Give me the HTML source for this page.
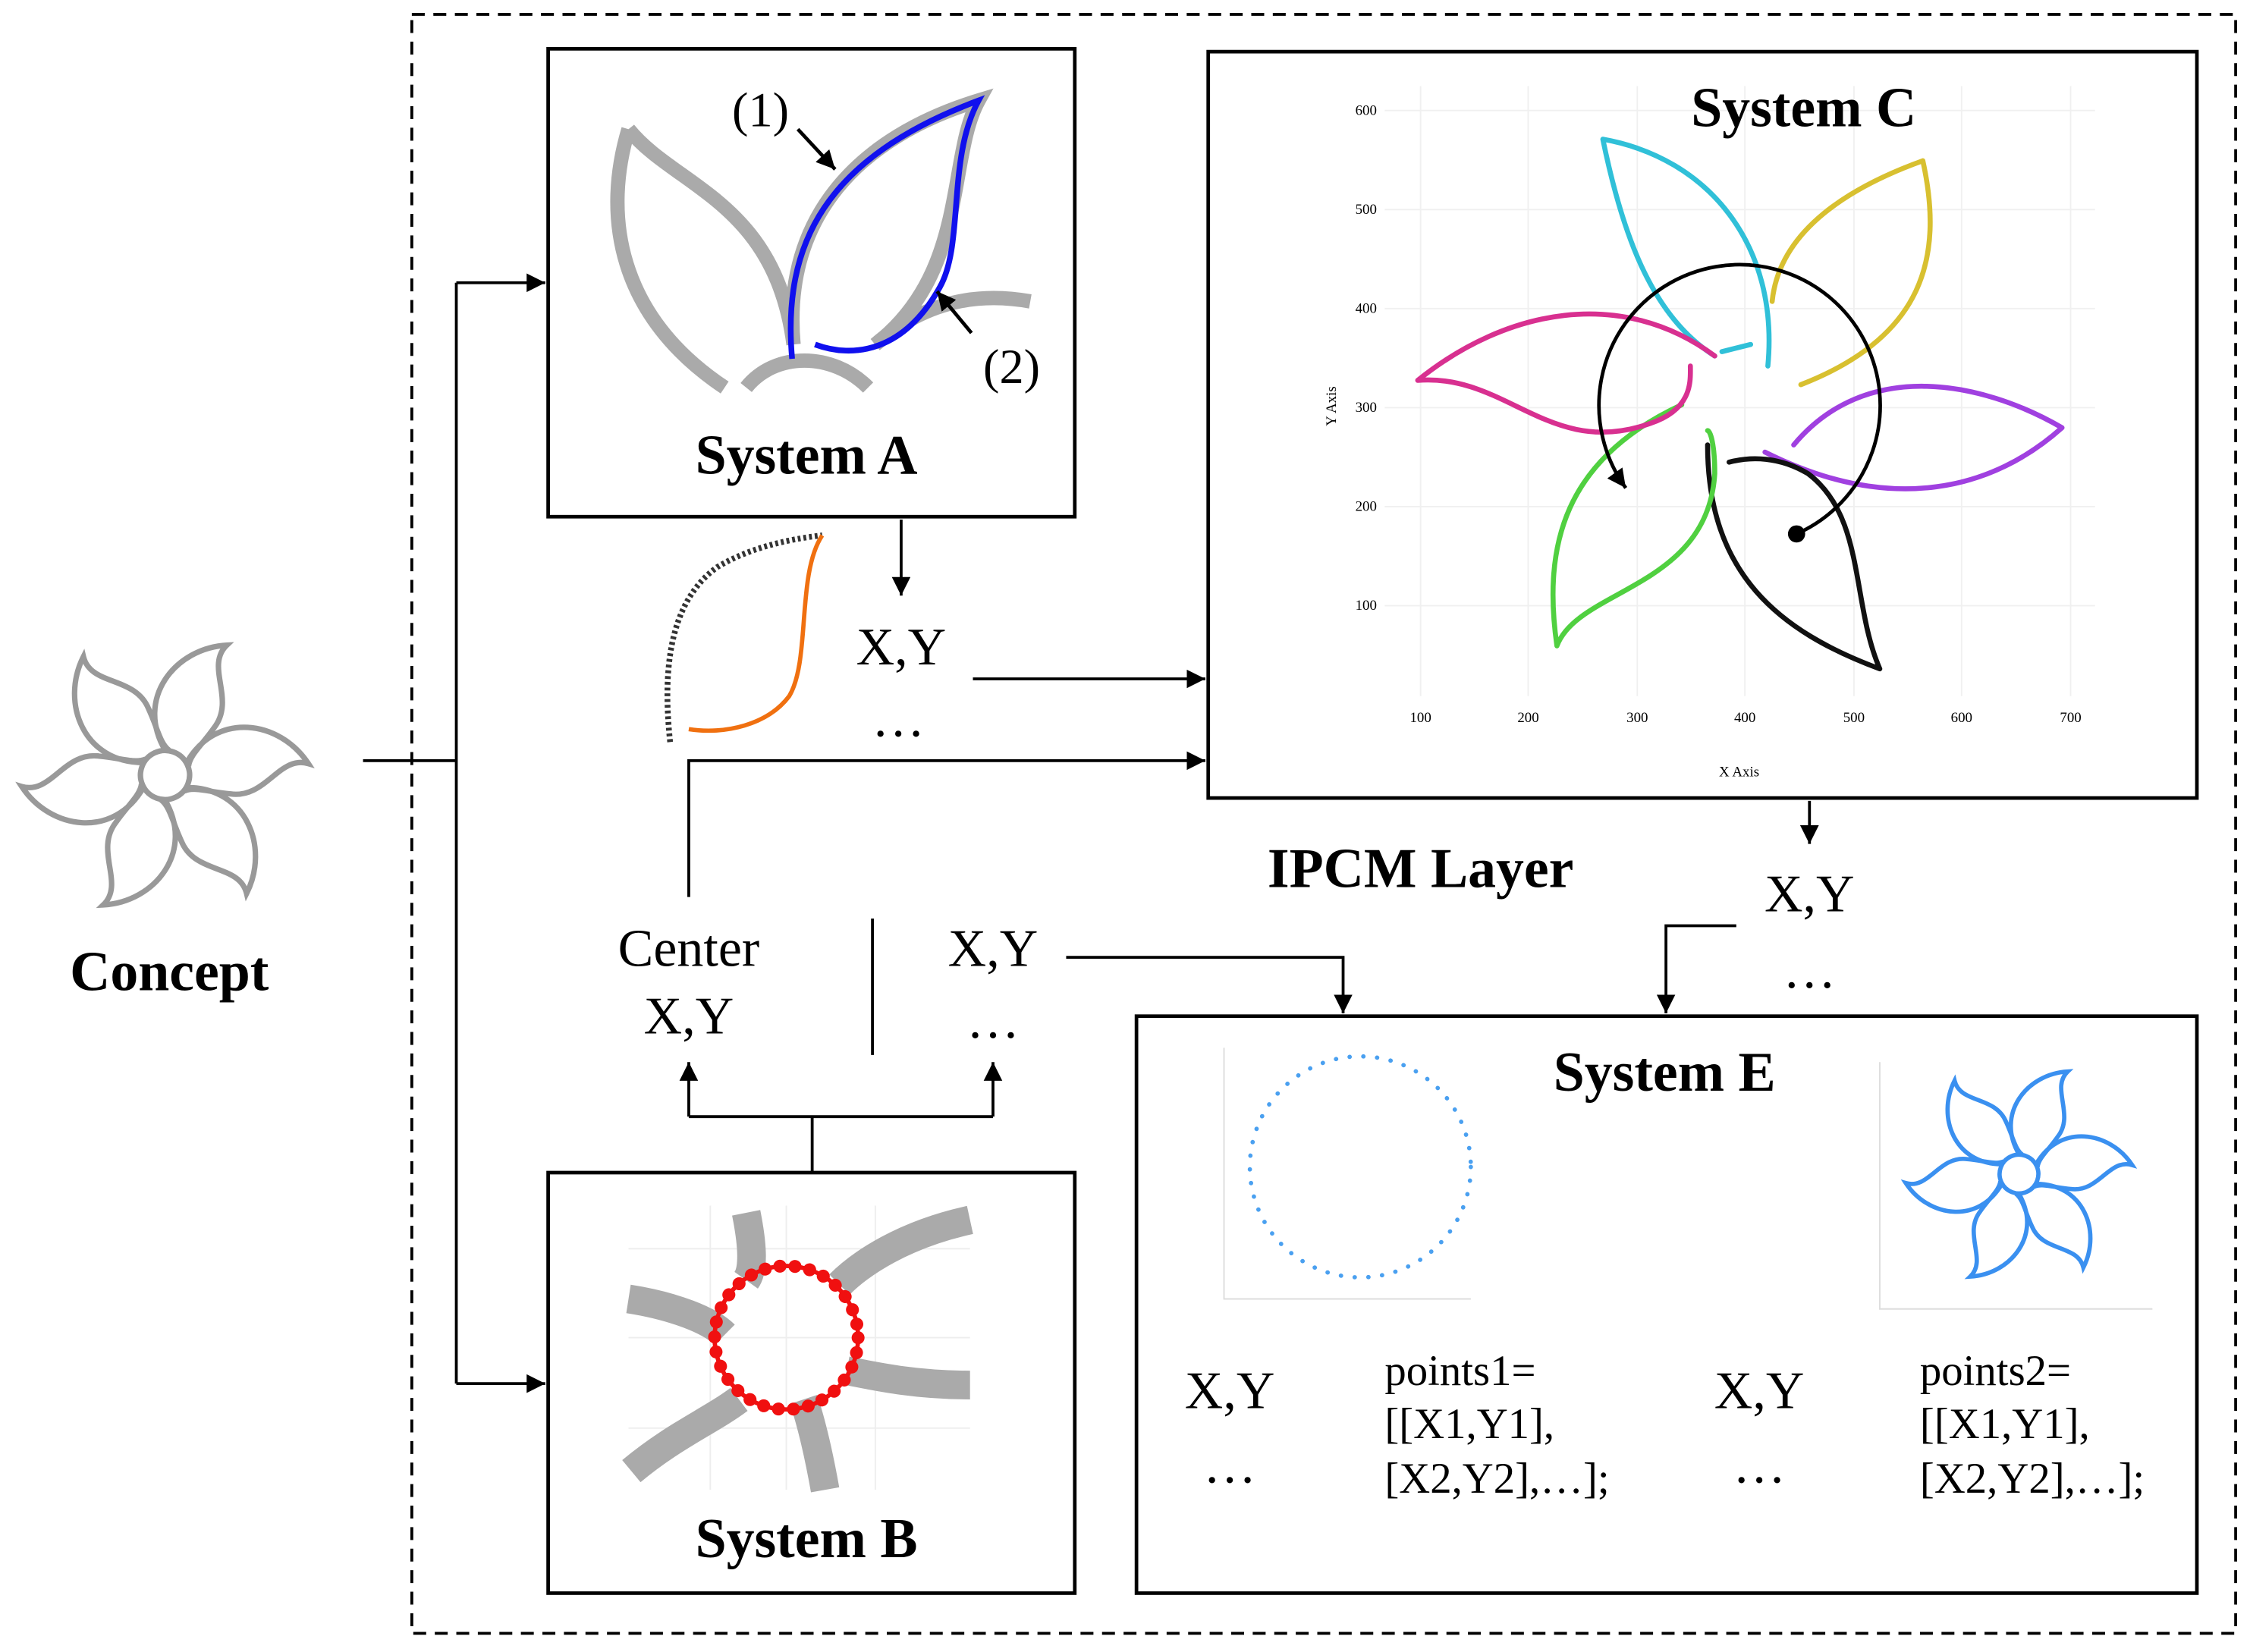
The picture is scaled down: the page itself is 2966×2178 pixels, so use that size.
<!DOCTYPE html>
<html><head><meta charset="utf-8"><style>
html,body{margin:0;padding:0;background:#fff}
svg{display:block}
text{font-family:"Liberation Serif",serif;fill:#000}
.t{font-weight:bold;font-size:39px;text-anchor:middle}
.r{font-size:37px;text-anchor:middle}
.p{font-size:30px}
.ax{font-family:"Liberation Sans",sans-serif;font-size:10px;fill:#555;text-anchor:middle}
</style></head><body>
<svg width="2966" height="2178" viewBox="0 0 1568 1151" preserveAspectRatio="none" xmlns="http://www.w3.org/2000/svg">
<defs>
<marker id="a" viewBox="0 0 10 10" refX="10" refY="5" markerWidth="13" markerHeight="13" markerUnits="userSpaceOnUse" orient="auto"><path d="M0,0L10,5L0,10z" fill="#000"/></marker>
<g id="pet"><path d="M-6,-17 C-40,-45 -25,-90 10,-105 C0,-85 30,-70 22,-45 C18,-30 12,-20 14,-12" fill="none"/></g>
</defs>
<rect x="287" y="10" width="1271" height="1128" fill="none" stroke="#000" stroke-width="2" stroke-dasharray="9,6"/>

<!-- Concept flower -->
<g transform="translate(115,540) rotate(20) scale(0.95)" stroke="#999" stroke-width="4" fill="none">
<circle r="18"/>
<use href="#pet"/><use href="#pet" transform="rotate(60)"/><use href="#pet" transform="rotate(120)"/><use href="#pet" transform="rotate(180)"/><use href="#pet" transform="rotate(240)"/><use href="#pet" transform="rotate(300)"/>
</g>
<text class="t" x="118" y="690">Concept</text>

<!-- connectors -->
<g stroke="#000" stroke-width="2" fill="none">
<path d="M253,530H318"/>
<path d="M318,197V964"/>
<path d="M318,197H380" marker-end="url(#a)"/>
<path d="M318,964H380" marker-end="url(#a)"/>
<path d="M628,362V415" marker-end="url(#a)"/>
<path d="M678,473H840" marker-end="url(#a)"/>
<path d="M480,625V530H840" marker-end="url(#a)"/>
<path d="M608,640V735"/>
<path d="M566,817V778M480,778H692"/>
<path d="M480,778V740" marker-end="url(#a)"/>
<path d="M692,778V740" marker-end="url(#a)"/>
<path d="M743,667H936V706" marker-end="url(#a)"/>
<path d="M1261,558V588" marker-end="url(#a)"/>
<path d="M1210,645H1161V706" marker-end="url(#a)"/>
<path d="M907,990H946" marker-end="url(#a)"/>
<path d="M1277,990H1319" marker-end="url(#a)"/>
</g>

<!-- System A -->
<rect x="382" y="34" width="367" height="326" fill="#fff" stroke="#000" stroke-width="2.5"/>
<g stroke="#aaa" stroke-width="10" fill="none">
<path d="M438,90 C420,150 430,220 505,270"/>
<path d="M438,90 C470,130 540,140 553,240"/>
<path d="M553,240 C545,150 600,95 682,70 C660,110 675,190 610,240 C650,205 690,205 718,210"/>
<path d="M520,270 C540,245 580,245 605,270"/>
</g>
<path d="M552,250 C545,170 575,110 682,70 C660,110 672,170 655,200 C630,245 595,250 568,240" stroke="#1010ee" stroke-width="4" fill="none"/>
<text x="530" y="88" class="r" style="font-size:34px">(1)</text>
<text x="705" y="267" class="r" style="font-size:34px">(2)</text>
<g stroke="#000" stroke-width="2.5"><path d="M556,90L582,118" marker-end="url(#a)"/><path d="M677,232L653,203" marker-end="url(#a)"/></g>
<text class="t" x="562" y="330">System A</text>

<!-- small leaf -->
<path d="M467,517 C462,470 465,420 500,395 C525,380 555,375 573,373" stroke="#333" stroke-width="4" stroke-dasharray="2,2" fill="none"/>
<path d="M573,373 C555,400 565,460 550,485 C535,505 505,512 480,508" stroke="#f07010" stroke-width="3" fill="none"/>
<text class="r" x="628" y="463">X,Y</text>
<text class="r" x="626" y="513">…</text>

<!-- System C -->
<rect x="842" y="36" width="689" height="520" fill="#fff" stroke="#000" stroke-width="2.5"/>
<g stroke="#f0f0f0" stroke-width="1">
<path d="M965,77H1460M965,146H1460M965,215H1460M965,284H1460M965,353H1460M965,422H1460"/>
<path d="M990,60V485M1065,60V485M1141,60V485M1216,60V485M1292,60V485M1367,60V485M1443,60V485"/>
</g>
<g class="ax"><text x="952" y="80">600</text><text x="952" y="149">500</text><text x="952" y="218">400</text><text x="952" y="287">300</text><text x="952" y="356">200</text><text x="952" y="425">100</text>
<text x="990" y="503">100</text><text x="1065" y="503">200</text><text x="1141" y="503">300</text><text x="1216" y="503">400</text><text x="1292" y="503">500</text><text x="1367" y="503">600</text><text x="1443" y="503">700</text>
<text x="1212" y="541">X Axis</text><text transform="translate(931,283) rotate(-90)">Y Axis</text></g>
<g fill="none" stroke-width="3.5" stroke-linecap="round">
<path d="M1117,97 C1130,160 1150,220 1195,248 M1117,97 C1190,110 1240,170 1232,255 M1200,245 L1220,240" stroke="#30c0d8"/>
<path d="M1340,112 C1290,130 1240,160 1235,210 M1340,112 C1355,180 1340,235 1255,268" stroke="#d8c030"/>
<path d="M1437,298 C1380,265 1300,250 1250,310 M1437,298 C1390,340 1320,360 1230,315" stroke="#a040e0"/>
<path d="M1310,466 C1240,440 1190,400 1190,310 M1310,466 C1290,420 1300,360 1260,330 C1240,318 1220,318 1205,322" stroke="#111"/>
<path d="M1085,450 C1075,380 1090,320 1172,282 M1085,450 C1100,410 1190,410 1195,330 C1195,310 1192,300 1190,300" stroke="#50d040"/>
<path d="M988,265 C1050,215 1130,200 1195,248 M988,265 C1050,260 1080,320 1150,295 C1180,285 1178,265 1178,255" stroke="#d83090"/>
</g>
<path d="M1252,372 A98,98 0 1 0 1133,340" fill="none" stroke="#000" stroke-width="2.5" marker-end="url(#a)"/>
<circle cx="1252" cy="372" r="6" fill="#000"/>
<text class="t" x="1257" y="88">System C</text>

<text class="t" x="990" y="618">IPCM Layer</text>
<text class="r" x="1261" y="635">X,Y</text>
<text class="r" x="1261" y="688">…</text>

<text class="r" x="480" y="673">Center</text>
<text class="r" x="480" y="720">X,Y</text>
<text class="r" x="692" y="673">X,Y</text>
<text class="r" x="692" y="723">…</text>

<!-- System B -->
<rect x="382" y="817" width="367" height="293" fill="#fff" stroke="#000" stroke-width="2.5"/>
<g stroke="#eee" stroke-width="1" fill="none"><path d="M438,870H676M438,932H676M438,995H676M495,840V1038M548,840V1038M610,840V1038"/></g>
<g stroke="#aaa" stroke-width="20" fill="none">
<path d="M438,905 C470,910 495,920 505,930"/>
<path d="M520,845 C525,870 525,885 520,892"/>
<path d="M676,850 C630,860 600,880 585,895"/>
<path d="M676,965 C640,965 615,960 590,955"/>
<path d="M575,1038 C570,1010 565,990 560,975"/>
<path d="M440,1025 C470,1000 495,990 515,975"/>
</g>
<circle cx="548" cy="932" r="50" fill="none" stroke="#f01010" stroke-width="9" stroke-dasharray="0.1,10.4" stroke-linecap="round"/>
<circle cx="548" cy="932" r="50" fill="none" stroke="#f01010" stroke-width="3"/>
<text class="t" x="562" y="1085">System B</text>

<!-- System E -->
<rect x="792" y="708" width="739" height="402" fill="#fff" stroke="#000" stroke-width="2.5"/>
<g stroke="#ddd" stroke-width="1" fill="none"><path d="M853,730V905H1025M1310,740V912H1500"/></g>
<circle cx="948" cy="813" r="77" fill="none" stroke="#4aa0f0" stroke-width="3" stroke-dasharray="0.1,9.5" stroke-linecap="round"/>
<g transform="translate(1407,818) rotate(20) scale(0.75)" stroke="#3a90f0" stroke-width="4" fill="none">
<circle r="18"/>
<use href="#pet"/><use href="#pet" transform="rotate(60)"/><use href="#pet" transform="rotate(120)"/><use href="#pet" transform="rotate(180)"/><use href="#pet" transform="rotate(240)"/><use href="#pet" transform="rotate(300)"/>
</g>
<text class="t" x="1160" y="760">System E</text>
<text class="r" x="857" y="981">X,Y</text>
<text class="r" x="857" y="1033">…</text>
<text class="p" x="965" y="965">points1=</text>
<text class="p" x="965" y="1002">[[X1,Y1],</text>
<text class="p" x="965" y="1040">[X2,Y2],…];</text>
<text class="r" x="1226" y="981">X,Y</text>
<text class="r" x="1226" y="1033">…</text>
<text class="p" x="1338" y="965">points2=</text>
<text class="p" x="1338" y="1002">[[X1,Y1],</text>
<text class="p" x="1338" y="1040">[X2,Y2],…];</text>
</svg>
</body></html>
